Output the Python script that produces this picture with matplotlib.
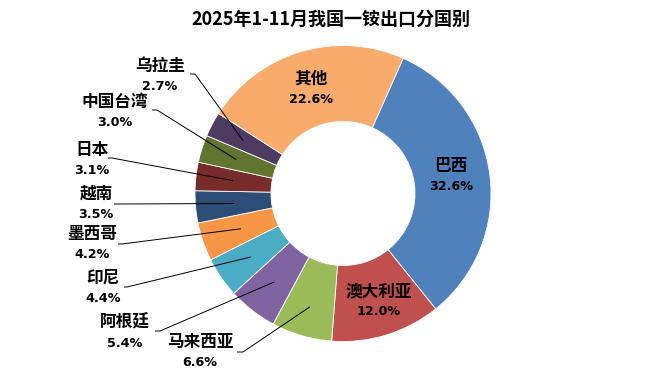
import numpy as np
import matplotlib
matplotlib.use("Agg")
import matplotlib.pyplot as plt

plt.rcParams['font.family'] = ['Noto Sans CJK SC', 'DejaVu Sans']

title = "2025年1-11月我国一铵出口分国别"
countries = ["巴西", "澳大利亚", "马来西亚", "阿根廷", "印尼", "墨西哥",
             "越南", "日本", "中国台湾", "乌拉圭", "其他"]
shares = [32.6, 12.0, 6.6, 5.4, 4.4, 4.2, 3.5, 3.1, 3.0, 2.7, 22.6]
colors = ["#4F81BD", "#C0504D", "#9BBB59", "#8064A2", "#4BACC6", "#F79646",
          "#2C4D75", "#772C2A", "#5F7530", "#4D3B62", "#F9AB6C"]

W, H = 659, 378
cx, cy = 343, 193.5          # pie centre in pixels (from top-left)
R_OUT, R_IN = 148, 72

fig = plt.figure(figsize=(W / 100, H / 100), dpi=100)
ax = fig.add_axes([0, 0, 1, 1])

start = 66
wedges, _ = ax.pie(shares, colors=colors, startangle=start, counterclock=False,
                   radius=R_OUT, wedgeprops=dict(width=R_OUT - R_IN, edgecolor='white', linewidth=0.6),
                   center=(0, 0))
ax.set_xlim(-cx, W - cx)
ax.set_ylim(-(H - cy), cy)
ax.set_aspect('equal')
ax.axis('off')

def P(x, y):
    return (x - cx, cy - y)

# label positions (pixels, name centre)
label_pos = {
    "巴西": (451, 166),
    "澳大利亚": (379, 291),
    "其他": (311, 79),
    "马来西亚": (200, 342),
    "阿根廷": (125, 323),
    "印尼": (103, 278),
    "墨西哥": (92, 234),
    "越南": (96, 194),
    "日本": (92, 150),
    "中国台湾": (115, 102),
    "乌拉圭": (160, 66),
}
# leader elbow points (pixels) for outside labels
elbows = {
    "马来西亚": ((243, 352), (237, 352)),
    "阿根廷": ((160, 331), (155, 331)),
    "印尼": ((127, 287), (124, 287)),
    "墨西哥": ((122, 244), (118, 244)),
    "越南": ((118, 204), (114, 204)),
    "日本": ((112, 158), (108, 158)),
    "中国台湾": ((157, 110), (152, 110)),
    "乌拉圭": ((195, 74), (190, 74)),
}
anchor_r = {
    "马来西亚": 118, "阿根廷": 112, "印尼": 112, "墨西哥": 108,
    "越南": 110, "日本": 111, "中国台湾": 112, "乌拉圭": 113,
}

for w, name, val in zip(wedges, countries, shares):
    lx, ly = P(*label_pos[name])
    ax.text(lx, ly, name, ha='center', va='center', fontsize=12,
            fontweight='bold', color='black')
    ax.text(lx, ly - 20.5, f"{val:.1f}%", ha='center', va='center', fontsize=9.2,
            fontweight='bold', color='black', family=['DejaVu Sans'])
    if name in elbows:
        th = np.deg2rad((w.theta1 + w.theta2) / 2)
        r = anchor_r[name]
        ax_, ay_ = r * np.cos(th), r * np.sin(th)
        (ex, ey), (fx, fy) = elbows[name]
        e = P(ex, ey)
        f = P(fx, fy)
        ax.plot([ax_, e[0], f[0]], [ay_, e[1], f[1]], color='black', lw=0.7,
                solid_capstyle='butt')

fig.text(331 / W, 1 - 19 / H, title, ha='center', va='center', fontsize=13,
         fontweight='bold')

fig.savefig("out.png", dpi=100)
